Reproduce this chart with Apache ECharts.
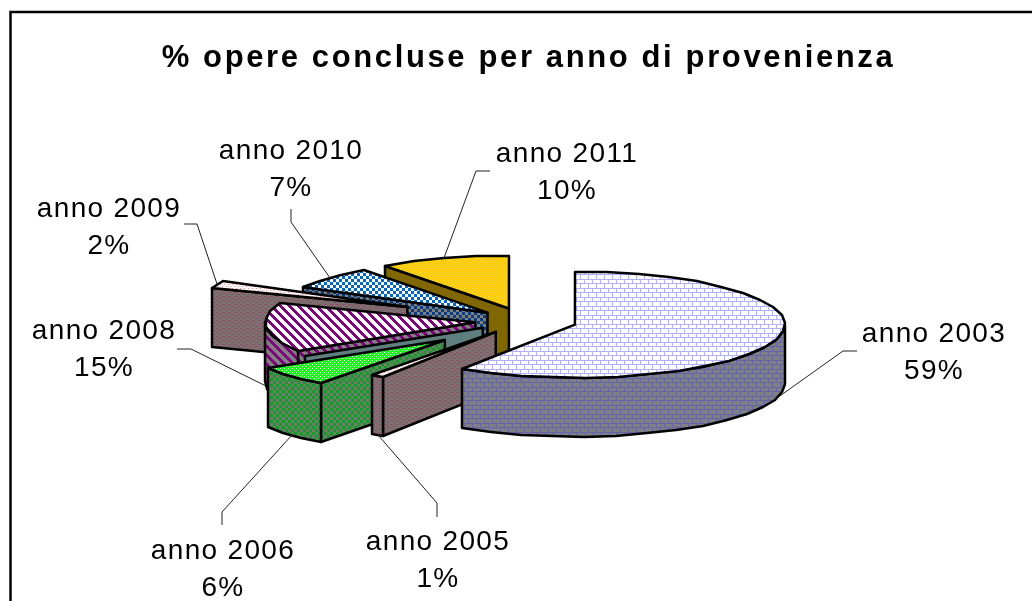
<!DOCTYPE html>
<html>
<head>
<meta charset="utf-8">
<style>html,body{margin:0;padding:0;background:#fff}#c{width:1032px;height:601px}</style>
<script src="https://cdn.jsdelivr.net/npm/echarts@6/dist/echarts.min.js"></script>
</head>
<body>
<div id="c"></div>
<script>
const titleText = '% opere concluse per anno di provenienza';
const categories = ['anno 2003','anno 2005','anno 2006','anno 2007','anno 2008','anno 2009','anno 2010','anno 2011'];
const values = [59, 1, 6, 0, 15, 2, 7, 10];

// Layout settings
const explode = [52, 52, 110, 50, 50, 130, 50, 52];
const labelCenters = [[934,353],[438,561],[223,570],null,[104,350],[109,228],[291,170],[567,173]];
const labelElbows = [[[843,351],[857,351]],[[437,503],[437,517]],[[222,512],[222,525]],null,[[191,349],[177,349]],[[197,224],[184,224]],[[291,222],[291,209]],[[476,171],[490,171]]];
const drawOrder = [7,6,5,4,3,2,1,0];
const CX = 525, CY = 321, RX = 210, RY = 53, DEPTH = 59;

function tile(w, h, paint) {
  const c = document.createElement('canvas');
  c.width = w; c.height = h;
  const g = c.getContext('2d');
  paint(g);
  return { image: c, repeat: 'repeat' };
}
function brick(bg, line) {
  return tile(8, 9, g => {
    g.fillStyle = bg; g.fillRect(0,0,8,9);
    g.fillStyle = line;
    g.fillRect(0,0,8,1); g.fillRect(0,4,8,1);
    g.fillRect(0,0,1,4); g.fillRect(4,4,1,5);
  });
}
function check(a, b, s) {
  return tile(2*s, 2*s, g => {
    g.fillStyle = a; g.fillRect(0,0,2*s,2*s);
    g.fillStyle = b; g.fillRect(0,0,s,s); g.fillRect(s,s,s,s);
  });
}
function stripes(a, b) {
  return tile(9, 9, g => {
    for (let y=0;y<9;y++) for (let x=0;x<9;x++) {
      g.fillStyle = ((x-y+18)%9)<4 ? a : b;
      g.fillRect(x,y,1,1);
    }
  });
}
function dots(bg, dot) {
  return tile(4, 4, g => {
    g.fillStyle = bg; g.fillRect(0,0,4,4);
    g.fillStyle = dot; g.fillRect(0,0,1,1); g.fillRect(2,2,1,1);
  });
}
function dashes(bg, dash) {
  return tile(6, 4, g => {
    g.fillStyle = bg; g.fillRect(0,0,6,4);
    g.fillStyle = dash; g.fillRect(0,0,3,1); g.fillRect(3,2,3,1);
  });
}
const topFills = [
  brick('#ffffff','#b0b0ff'),
  dots('#ffffff','#ff9090'),
  dots('#10ff10','#ffffff'),
  '#5f7f7f',
  stripes('#800080','#ffffff'),
  dots('#ffffff','#ff9090'),
  check('#ffffff','#0066cc',3),
  dots('#ffcc00','#ffe050')
];
const sideFills = [
  brick('#808080','#6464aa'),
  dashes('#7d7272','#8c5066'),
  check('#687f68','#189a28',3),
  '#5f7f7f',
  stripes('#800080','#808080'),
  dashes('#7d7272','#8c5066'),
  check('#808080','#0a3c80',3),
  dots('#806600','#8c7000')
];

const total = values.reduce((a,b)=>a+b,0);
const slices = [];
values.reduce((acc, v, i) => {
  const s = acc/total*2*Math.PI, e = (acc+v)/total*2*Math.PI, m = (s+e)/2;
  slices.push({
    s, e, m,
    vx: CX + explode[i]*Math.sin(m),
    vy: CY - explode[i]*Math.cos(m)*RY/RX
  });
  return acc+v;
}, 0);

function rim(sl, a, d) {
  return [Math.round(sl.vx + RX*Math.sin(a)), Math.round(sl.vy - RY*Math.cos(a) + (d||0))];
}
function arc(sl, a, b, d) {
  const step = 9*Math.PI/180, pts = [];
  const n = Math.max(1, Math.ceil((b-a)/step));
  for (let k=0;k<=n;k++) pts.push(rim(sl, a+(b-a)*k/n, d));
  return pts;
}
const INK = {stroke:'#000', lineWidth:2.5, lineJoin:'round'};
function poly(points, fill) {
  return {type:'polygon', shape:{points}, style:Object.assign({fill}, INK)};
}
function measure(text, font) {
  const g = document.createElement('canvas').getContext('2d');
  g.font = font;
  return g.measureText(text).width;
}
const LABEL_FONT = '28px "Liberation Sans", Arial, sans-serif';
const TITLE_FONT = 'bold 31px "Liberation Sans", Arial, sans-serif';
// ECharts text has no tracking option; the reference text is tracked.
const labelTrack = (143 - measure('anno 2006', LABEL_FONT)) / 8;
const titleTrack = (731 - measure(titleText, TITLE_FONT)) / (titleText.length - 1);
const proto = CanvasRenderingContext2D.prototype, baseFill = proto.fillText;
proto.fillText = function (t, x, y, w) {
  this.letterSpacing = (/bold/.test(this.font) ? titleTrack : labelTrack) + 'px';
  return w === undefined ? baseFill.call(this, t, x, y) : baseFill.call(this, t, x, y, w);
};

function renderSlice(params, api) {
  const i = api.value(0), sl = slices[i], kids = [];
  const v = [sl.vx, sl.vy];
  const vb = [sl.vx, sl.vy+DEPTH];
  if (Math.sin(sl.s) < -1e-6) {
    kids.push(poly([v, rim(sl, sl.s), rim(sl, sl.s, DEPTH), vb], sideFills[i]));
  }
  if (Math.sin(sl.e) > 1e-6 && sl.e > sl.s) {
    kids.push(poly([v, rim(sl, sl.e), rim(sl, sl.e, DEPTH), vb], sideFills[i]));
  }
  const a = Math.max(sl.s, Math.PI/2), b = Math.min(sl.e, 1.5*Math.PI);
  if (b > a) {
    const up = arc(sl, a, b, 0), dn = arc(sl, a, b, DEPTH).reverse();
    kids.push(poly(up.concat(dn), sideFills[i]));
  }
  if (sl.e > sl.s) kids.push(poly([v].concat(arc(sl, sl.s, sl.e, 0)), topFills[i]));
  return {type:'group', children:kids};
}
function renderLabel(params, api) {
  const i = api.value(0), sl = slices[i], kids = [];
  const p = rim(sl, sl.m, Math.cos(sl.m) < 0 ? DEPTH : 0);
  const elbow = labelElbows[i], c = labelCenters[i];
  kids.push({type:'polyline', shape:{points:[p].concat(elbow)}, style:{stroke:'#222', lineWidth:1, fill:null}});
  kids.push({type:'text', x:c[0], y:c[1], style:{
    text: categories[i]+'\n'+values[i]+'%', font:LABEL_FONT, fill:'#000',
    align:'center', verticalAlign:'middle', lineHeight:37
  }});
  return {type:'group', children:kids};
}

const chart = echarts.init(document.getElementById('c'), null, {renderer:'canvas', width:1032, height:601});
chart.setOption({
  animation:false,
  backgroundColor:'#fff',
  graphic:[
    {type:'polyline', shape:{points:[[10.5,601],[10.5,12],[1032,12]]}, style:{stroke:'#000', lineWidth:2.5, fill:null}},
    {type:'text', x:528.5, y:58, style:{text:titleText, font:TITLE_FONT, fill:'#000', align:'center', verticalAlign:'middle'}}
  ],
  series:[
    {type:'custom', coordinateSystem:'none', silent:true, z:2, renderItem:renderSlice,
     encode:{}, data:drawOrder.map(i=>[i, values[i]])},
    {type:'custom', coordinateSystem:'none', silent:true, z:3, renderItem:renderLabel,
     encode:{}, data:drawOrder.filter(i=>values[i]>0).map(i=>[i, values[i]])}
  ]
});
</script>
</body>
</html>
